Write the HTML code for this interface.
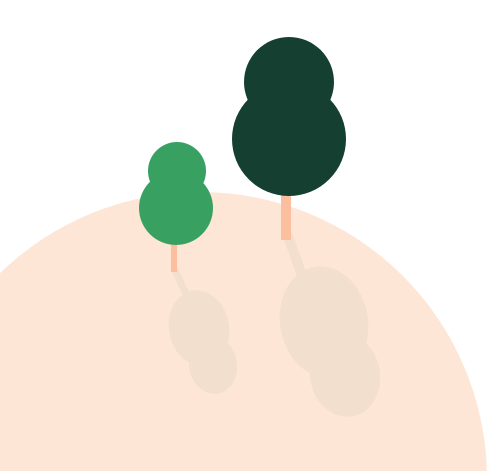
<!DOCTYPE html>
<html><head><meta charset="utf-8"><style>html,body{margin:0;padding:0;background:#fff;width:499px;height:471px;overflow:hidden}svg{display:block}</style></head>
<body>
<svg width="499" height="471" viewBox="0 0 499 471">
  <circle cx="200" cy="479" r="287" fill="#fde6d6"/>
  <g fill="#f2dfcd" stroke="none">
    <line x1="174" y1="268" x2="188" y2="298" stroke="#f2dfcd" stroke-width="7" stroke-linecap="round"/>
    <ellipse cx="199" cy="328" rx="30" ry="38" transform="rotate(-10 199 328)"/>
    <ellipse cx="213" cy="365" rx="24" ry="29" transform="rotate(-10 213 365)"/>
  </g>
  <g fill="#f2dfcd">
    <line x1="288" y1="236" x2="302" y2="275" stroke="#f2dfcd" stroke-width="10" stroke-linecap="round"/>
    <ellipse cx="324" cy="322" rx="44" ry="56" transform="rotate(-10 324 322)"/>
    <ellipse cx="345" cy="375" rx="35" ry="42" transform="rotate(-10 345 375)"/>
  </g>
  <g>
    <rect x="171" y="238" width="6" height="34" fill="#fbbfa0"/>
    <circle cx="177" cy="171" r="29" fill="#38a162"/>
    <circle cx="176" cy="208" r="37" fill="#38a162"/>
  </g>
  <g>
    <rect x="281" y="188" width="10" height="52" fill="#fbbfa0"/>
    <circle cx="289" cy="82" r="45" fill="#143f31"/>
    <circle cx="289" cy="139" r="57" fill="#143f31"/>
  </g>
</svg>
</body></html>
